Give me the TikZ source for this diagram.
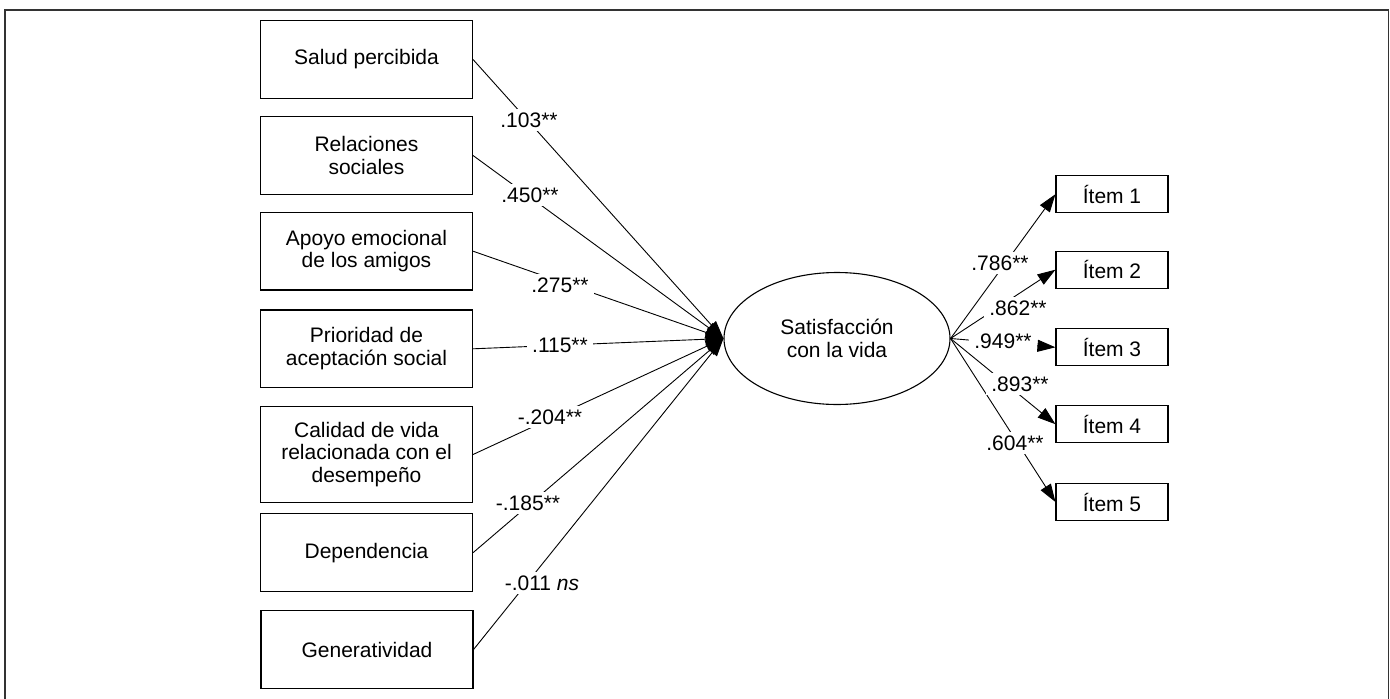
\documentclass[tikz,border=0pt]{standalone}
\usepackage{fontspec}
\setmainfont{Liberation Sans}
\usetikzlibrary{arrows.meta,shapes.geometric}
\begin{document}
\begin{tikzpicture}[x=1pt,y=-1pt,
  every node/.style={font=\fontsize{21}{22.5}\selectfont},
  varbox/.style={draw, line width=1.1pt, minimum width=212pt, minimum height=77.6pt, inner sep=0pt, align=center},
  itembox/.style={draw, line width=1.1pt, minimum width=112pt, minimum height=37pt, inner sep=0pt},
  latent/.style={draw, ellipse, line width=1.1pt, minimum width=226pt, minimum height=132pt, inner sep=0pt, align=center},
  path/.style={line width=0.9pt, -{Triangle[length=18pt,width=12pt]}},
  lab/.style={fill=white, inner xsep=5pt, inner ysep=4pt}]
\useasboundingbox (0,0) rectangle (1390,699);
\begin{scope}
\clip (0,0) rectangle (1390,699);
\draw[line width=1.5pt, draw=black!80] (5,10) rectangle (1388.5,720);
\end{scope}
% left boxes
\node[varbox] (b1) at (366.5,59.5) {Salud percibida};
\node[varbox] (b2) at (366.5,155.5) {Relaciones\\sociales};
\node[varbox] (b3) at (366.5,251.2) {Apoyo emocional\\de los amigos};
\node[varbox] (b4) at (366.5,348.8) {Prioridad de\\aceptación social};
\node[varbox, minimum height=95.6pt] (b5) at (366.5,454.5) {Calidad de vida\\relacionada con el\\desempeño};
\node[varbox] (b6) at (366.5,552.7) {Dependencia};
\node[varbox] (b7) at (367,649.5) {Generatividad};
% latent
\node[latent] (sat) at (837,338.5) {Satisfacción\\con la vida};
% items
\node[itembox] (i1) at (1112,194.2) {Ítem 1};
\node[itembox] (i2) at (1112,269.7) {Ítem 2};
\node[itembox] (i3) at (1112,347.3) {Ítem 3};
\node[itembox] (i4) at (1112,424.2) {Ítem 4};
\node[itembox] (i5) at (1112,502) {Ítem 5};
% paths
\foreach \b in {b1,b2,b3,b4,b5,b6,b7} \draw[path] (\b.east) -- (sat.west);
\foreach \i in {i1,i2,i3,i4,i5} \draw[path] (sat.east) -- (\i.west);
% labels
\node[lab] (l1) at (529,120) {.103**};
\node[lab] (l2) at (530,195) {.450**};
\node[lab] (l3) at (560,285) {.275**};
\node[lab] (l4) at (560,345) {.115**};
\node[lab] (l5) at (550,417) {-.204**};
\node[lab] (l6) at (528,503) {-.185**};
\node[lab] (l7) at (542,583) {-.011 \textit{ns}};
\node[lab] (r1) at (1000,263) {.786**};
\node[lab] (r2) at (1018,308) {.862**};
\node[lab] (r3) at (1003,341) {.949**};
\node[lab] (r4) at (1020,384) {.893**};
\node[lab] (r5) at (1015,443) {.604**};
\end{tikzpicture}
\end{document}
